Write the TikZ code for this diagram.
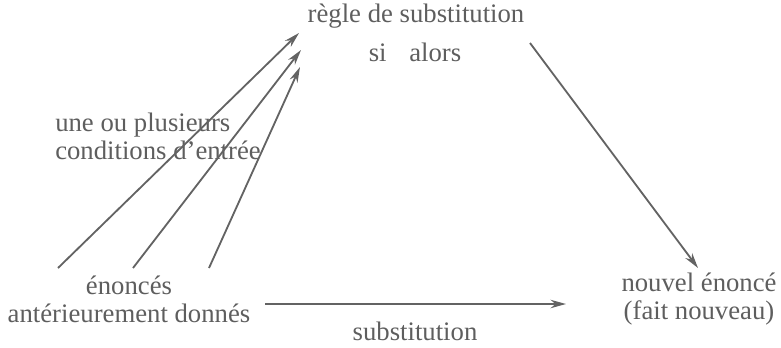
\documentclass[tikz,border=0pt]{standalone}
\usepackage{fontspec}
\setmainfont{Liberation Serif}
\usepackage{tikz}
\usetikzlibrary{arrows.meta}
\definecolor{inkgray}{HTML}{5E5E5E}
\definecolor{arrowgray}{HTML}{636363}

\begin{document}
\begin{tikzpicture}[x=0.25mm,y=-0.25mm,
  txt/.style={font=\fontsize{19}{20}\selectfont, inkgray, inner sep=0pt, align=center},
  link/.style={-{Stealth[length=11pt,width=6pt]}, line width=1.3pt, arrowgray}]
  \useasboundingbox (0,0) rectangle (781,347);

  % Rule
  \node[txt] (regle) at (416,16) {règle de substitution};
  \node[txt] (sialors) at (415,52) {si\hspace{0.6em} alors};

  % Conditions
  \node[txt, align=left, anchor=west] (cond) at (55,136) {une ou plusieurs\\conditions d'entrée};

  % Given statements
  \node[txt] (enonces) at (129,299) {énoncés\\antérieurement donnés};

  % New statement
  \node[txt] (nouvel) at (699,299) {nouvel énoncé\\(fait nouveau)};

  % Substitution
  \node[txt] (subst) at (415,331) {substitution};

  % Arrow ends
  \coordinate (e1) at (58,268);
  \coordinate (e2) at (133,268);
  \coordinate (e3) at (209,268);
  \coordinate (r1) at (299,33);
  \coordinate (r2) at (301,50);
  \coordinate (r3) at (300,67);
  \coordinate (r4) at (530,43);
  \coordinate (n1) at (698,268);
  \coordinate (h1) at (265,304);
  \coordinate (h2) at (566,304);

  % Arrows
  \draw[link] (e1) -- (r1);
  \draw[link] (e2) -- (r2);
  \draw[link] (e3) -- (r3);
  \draw[link] (r4) -- (n1);
  \draw[link] (h1) -- (h2);
\end{tikzpicture}
\end{document}
